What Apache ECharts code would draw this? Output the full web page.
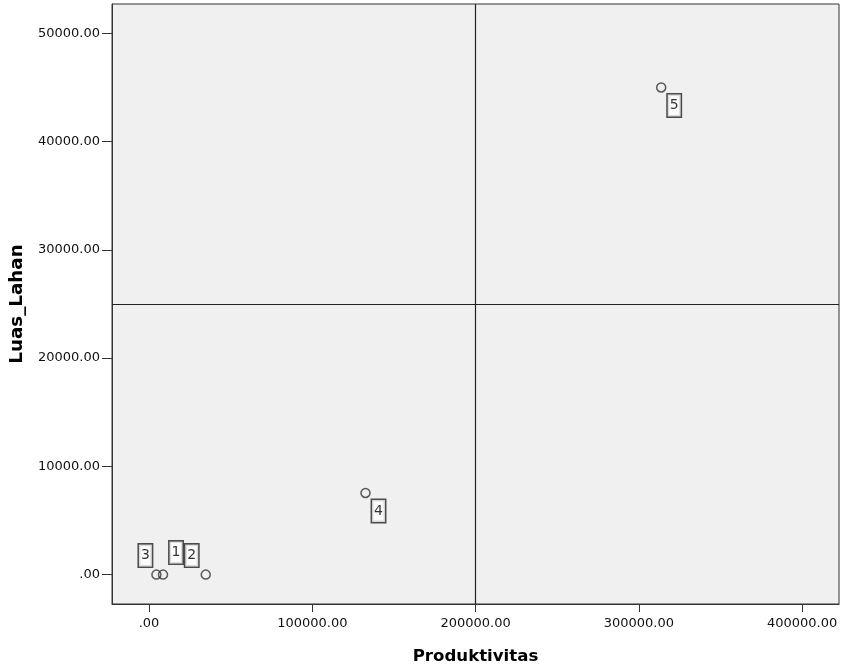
<!DOCTYPE html>
<html>
<head>
<meta charset="utf-8">
<script src="https://cdn.jsdelivr.net/npm/echarts@6/dist/echarts.min.js"></script>
<style>
html,body{margin:0;padding:0;background:#fff;}
#chart{width:841px;height:671px;}
</style>
</head>
<body>
<div id="chart"></div>
<script>
// ---- data ----
const caseLabels = ['1', '2', '3', '4', '5'];
const produktivitas = [8580, 34740, 4530, 132600, 313700];
const luasLahan = [0, 0, 0, 7540, 45000];
const xTickValues = [0, 100000, 200000, 300000, 400000];
const yTickValues = [0, 10000, 20000, 30000, 40000, 50000];
const refX = 200000;
const refY = 25000;

// ---- styling (label offsets around the markers) ----
const labelOffsets = [[13, -22], [-14, -19], [-11, -19], [13, 18], [13, 18]];

function fmt(v) {
  if (v === 0) return '.00';
  return v.toFixed(2);
}

const points = caseLabels.map((c, i) => ({
  value: [produktivitas[i], luasLahan[i]],
  name: c,
  label: { offset: labelOffsets[i] }
}));

const chart = echarts.init(document.getElementById('chart'), null, { renderer: 'canvas' });
const font = 'DejaVu Sans';
chart.setOption({
  animation: false,
  backgroundColor: '#ffffff',
  grid: {
    left: 112, top: 4, right: 2, bottom: 67,
    show: true,
    backgroundColor: '#f0f0f0',
    borderColor: '#333333',
    borderWidth: 1
  },
  xAxis: {
    type: 'value',
    min: -22670,
    max: 422600,
    name: 'Produktivitas',
    nameLocation: 'middle',
    nameGap: 44,
    nameTextStyle: { fontFamily: font, fontWeight: 'bold', fontSize: 16.6, color: '#000' },
    splitLine: { show: false },
    axisLine: { show: true, onZero: false, lineStyle: { color: '#333' } },
    axisTick: { show: true, length: 8, customValues: xTickValues, lineStyle: { color: '#333' } },
    axisLabel: {
      customValues: xTickValues, formatter: fmt, margin: 13,
      fontFamily: font, fontSize: 13, color: '#111'
    }
  },
  yAxis: {
    type: 'value',
    min: -2717,
    max: 52710,
    name: 'Luas_Lahan',
    nameLocation: 'middle',
    nameRotate: 90,
    nameGap: 86,
    nameTextStyle: { fontFamily: font, fontWeight: 'bold', fontSize: 18.3, color: '#000' },
    splitLine: { show: false },
    axisLine: { show: true, onZero: false, lineStyle: { color: '#333' } },
    axisTick: { show: true, length: 10, customValues: yTickValues, lineStyle: { color: '#333' } },
    axisLabel: {
      customValues: yTickValues, formatter: fmt, margin: 12,
      fontFamily: font, fontSize: 13, color: '#111'
    }
  },
  series: [{
    type: 'scatter',
    data: points,
    symbol: 'circle',
    symbolSize: 9,
    itemStyle: { color: 'rgba(240,240,240,0)', borderColor: '#333', borderWidth: 1.5 },
    label: {
      show: true,
      position: 'inside',
      formatter: p => '{b|' + p.name + '}',
      rich: {
        b: {
          fontFamily: font,
          fontSize: 14,
          color: '#000',
          backgroundColor: '#ffffff',
          borderColor: '#222',
          borderWidth: 1.5,
          padding: [4, 2, 4, 2],
          lineHeight: 14
        }
      }
    },
    emphasis: { disabled: true },
    markLine: {
      silent: true,
      symbol: 'none',
      label: { show: false },
      lineStyle: { color: '#222', width: 1.2, type: 'solid' },
      data: [{ xAxis: refX }, { yAxis: refY }]
    }
  }]
});
</script>
</body>
</html>
